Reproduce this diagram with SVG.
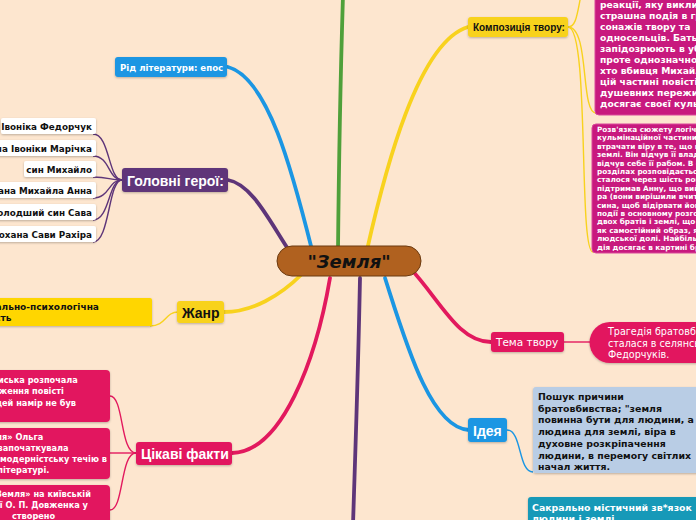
<svg xmlns="http://www.w3.org/2000/svg" width="696" height="520" viewBox="0 0 696 520">
<defs>
<filter id="sh" x="-10%" y="-10%" width="120%" height="130%"><feDropShadow dx="0" dy="1" stdDeviation="0.8" flood-color="#000" flood-opacity="0.25"/></filter>
<style>
.br{fill:none;stroke-linecap:round;stroke-width:3.8}
.th{fill:none;stroke-width:1.4}
.t1{font-family:"Liberation Sans",Arial,sans-serif;font-weight:bold}
.dv{font-family:"DejaVu Sans",Verdana,sans-serif;font-weight:bold}
.dr{font-family:"DejaVu Sans",Verdana,sans-serif}
.w{fill:#fff}
.k{fill:#111}
.sub{fill:#fff;filter:url(#sh)}
</style>
</defs>
<rect width="696" height="520" fill="#FDE6CF"/>
<g id="connectors">
<path class="br" stroke="#4FA03A" d="M338,250 C339,150 341,60 343,-5"/>
<path class="br" stroke="#1B96E3" d="M312,250 C292,170 268,78 228,67"/>
<path class="br" stroke="#F8D21E" d="M367,250 C385,170 418,42 468,27"/>
<path class="br" stroke="#5E3579" d="M290,252 C270,222 252,184 228,180"/>
<path class="br" stroke="#F8D21E" d="M302,274 C280,296 252,312 224,312"/>
<path class="br" stroke="#E2195E" d="M330,278 C316,360 282,452 232,453"/>
<path class="br" stroke="#5E3579" d="M360,278 C358,380 355,460 353,525"/>
<path class="br" stroke="#1B96E3" d="M385,278 C405,340 430,428 469,430"/>
<path class="br" stroke="#E2195E" d="M410,268 C440,300 458,342 491,342"/>
<g stroke="#5E3579" class="th">
<path d="M122,180 C108,180 110,134 93,134"/>
<path d="M122,180 C108,180 110,156 93,156"/>
<path d="M122,180 C108,180 110,177 93,177"/>
<path d="M122,180 C108,180 110,198 93,198"/>
<path d="M122,180 C108,180 110,220 93,220"/>
<path d="M122,180 C108,180 110,242 93,242"/>
</g>
<path class="th" stroke="#F8D21E" d="M178,312 C165,312 166,326 150,326"/>
<g stroke="#E2195E" class="th">
<path d="M136,453 C120,453 124,396 110,396"/>
<path d="M136,453 L110,453"/>
<path d="M136,453 C120,453 124,510 110,510"/>
</g>
<g stroke="#F8D21E" class="th">
<path d="M568,27 C576,27 577,15 581,-5"/>
<path d="M568,27 C590,27 580,113 596,113"/>
<path d="M568,27 C590,27 578,252 593,252"/>
</g>
<path class="th" stroke="#E2195E" d="M564,342 L590,342"/>
<path class="th" stroke="#1B96E3" d="M507,430 C522,430 518,472 533,472"/>
</g>
<g id="center">
<rect x="277" y="246" width="144" height="30" rx="15" fill="#B0611F" stroke="#6B3A10" stroke-width="1"/>
<text x="349" y="268" text-anchor="middle" class="k" style="font-family:'DejaVu Sans',sans-serif;font-weight:bold;font-style:italic;font-size:18px">"Земля"</text>
</g>
<g id="rid">
<rect x="115" y="57" width="112" height="20" rx="3" fill="#1B96E3" filter="url(#sh)"/>
<text x="120" y="70.5" class="dv w" font-size="8.6">Рід літератури: епос</text>
</g>
<g id="heroes">
<rect x="122" y="168" width="106" height="24" rx="3" fill="#5E3579" filter="url(#sh)"/>
<text x="127" y="186" class="t1 w" font-size="14">Головні герої:</text>
</g>
<g id="hero1"><rect class="sub" x="1" y="118" width="95" height="16" rx="2"/><text x="92" y="129.5" text-anchor="end" class="dv k" font-size="8.8">Івоніка Федорчук</text></g>
<g id="hero2"><rect class="sub" x="-30" y="140" width="126" height="16" rx="2"/><text x="92" y="151.5" text-anchor="end" class="dv k" font-size="8.8">Дружина Івоніки Марічка</text></g>
<g id="hero3"><rect class="sub" x="24" y="161" width="72" height="16" rx="2"/><text x="92" y="172.5" text-anchor="end" class="dv k" font-size="8.8">син Михайло</text></g>
<g id="hero4"><rect class="sub" x="-30" y="182" width="126" height="16" rx="2"/><text x="92" y="193.5" text-anchor="end" class="dv k" font-size="8.8">Кохана Михайла Анна</text></g>
<g id="hero5"><rect class="sub" x="-30" y="204" width="126" height="16" rx="2"/><text x="92" y="215.5" text-anchor="end" class="dv k" font-size="8.8">Молодший син Сава</text></g>
<g id="hero6"><rect class="sub" x="-30" y="226" width="126" height="16" rx="2"/><text x="92" y="237.5" text-anchor="end" class="dv k" font-size="8.8">кохана Сави Рахіра</text></g>
<g id="zhanr">
<rect x="177" y="301" width="47" height="22" rx="3" fill="#F8D21E" filter="url(#sh)"/>
<text x="182" y="317.5" class="t1 k" font-size="14">Жанр</text>
</g>
<g id="zhanr-child">
<rect x="-10" y="298" width="162" height="28" rx="2" fill="#FFD600" filter="url(#sh)"/>
<text class="dv k" font-size="9"><tspan x="-27" y="309.5">Соціально-психологічна</tspan><tspan x="-26" y="320.5">повість</tspan></text>
</g>
<g id="facts">
<rect x="136" y="442" width="96" height="23" rx="3" fill="#E2195E" filter="url(#sh)"/>
<text x="141" y="458.5" class="t1 w" font-size="14">Цікаві факти</text>
</g>
<g id="fact1">
<rect x="-10" y="370" width="120" height="52" rx="4" fill="#E2195E" filter="url(#sh)"/>
<text class="dv w" font-size="8.2"><tspan x="-2" y="383">иська розпочала</tspan><tspan x="-1" y="394">ження повісті</tspan><tspan x="-4" y="405.5">цей намір не був</tspan></text>
</g>
<g id="fact2">
<rect x="-10" y="428" width="120" height="51" rx="4" fill="#E2195E" filter="url(#sh)"/>
<text class="dv w" font-size="8.2"><tspan x="-4" y="440">ля» Ольга</tspan><tspan x="-2" y="451">започаткувала</tspan><tspan x="0" y="462">модерністську течію в</tspan><tspan x="-3" y="473">літературі.</tspan></text>
</g>
<g id="fact3">
<rect x="-10" y="485" width="120" height="45" rx="4" fill="#E2195E" filter="url(#sh)"/>
<text class="dv w" font-size="8.2"><tspan x="-4" y="497">Земля» на київській</tspan><tspan x="-3" y="508">ії О. П. Довженка у</tspan><tspan x="12" y="519">створено</tspan></text>
</g>
<g id="kompozytsiia">
<rect x="468" y="17" width="100" height="20" rx="3" fill="#F8D21E" filter="url(#sh)"/>
<text x="473" y="30.5" class="t1 k" font-size="10">Композиція твору:</text>
</g>
<g id="komp1">
<rect x="595" y="-10" width="110" height="125" rx="4" fill="#C8197E" stroke="#D9489A" stroke-width="1"/>
<text class="dv w" font-size="9.2"><tspan x="600" y="8">реакції, яку викликала</tspan><tspan x="600" y="19">страшна подія в гру</tspan><tspan x="600" y="30">сонажів твору та</tspan><tspan x="600" y="41">односельців. Батьки</tspan><tspan x="600" y="52">запідозрюють в убивстві</tspan><tspan x="600" y="63">проте однозначно</tspan><tspan x="600" y="74">хто вбивця Михайла</tspan><tspan x="600" y="85">цій частині повісті</tspan><tspan x="600" y="96">душевних переживань</tspan><tspan x="600" y="107">досягає своєї кульмінації</tspan></text>
</g>
<g id="komp2">
<rect x="592" y="124" width="110" height="129" rx="4" fill="#C8197E" stroke="#D9489A" stroke-width="1"/>
<text class="dv w" font-size="7.3"><tspan x="597" y="132">Розв'язка сюжету логічна</tspan><tspan x="597" y="140.4">кульмінаційної частини</tspan><tspan x="597" y="148.8">втрачати віру в те, що він</tspan><tspan x="597" y="157.2">землі. Він відчув її владу</tspan><tspan x="597" y="165.6">відчув себе її рабом. В останніх</tspan><tspan x="597" y="174">розділах розповідається</tspan><tspan x="597" y="182.4">сталося через шість років</tspan><tspan x="597" y="190.8">підтримав Анну, що вийшла</tspan><tspan x="597" y="199.2">ра (вони вирішили вчити</tspan><tspan x="597" y="207.6">сина, щоб відірвати його</tspan><tspan x="597" y="216">події в основному розгортаються</tspan><tspan x="597" y="224.4">двох братів і землі, що</tspan><tspan x="597" y="232.8">як самостійний образ, як</tspan><tspan x="597" y="241.2">людської долі. Найбільшої</tspan><tspan x="597" y="249.6">дія досягає в картині братовбивства</tspan></text>
</g>
<g id="tema">
<rect x="491" y="332" width="73" height="20" rx="3" fill="#E2195E" filter="url(#sh)"/>
<text x="496" y="346" class="dr w" font-size="10.5">Тема твору</text>
</g>
<g id="tema-child">
<path d="M610,322 H705 V363 H610 A20.5,20.5 0 0 1 610,322 Z" fill="#E2195E" filter="url(#sh)"/>
<text class="dr w" font-size="9.6"><tspan x="608" y="335">Трагедія братовбивства, що</tspan><tspan x="608" y="346.5">сталася в селянській родині</tspan><tspan x="608" y="358">Федорчуків.</tspan></text>
</g>
<g id="ideia">
<rect x="468" y="418" width="39" height="24" rx="3" fill="#1B96E3" filter="url(#sh)"/>
<text x="473" y="435.5" class="t1 w" font-size="14">Ідея</text>
</g>
<g id="ideia-child">
<rect x="533" y="387" width="175" height="86" rx="3" fill="#B9CDE5" filter="url(#sh)"/>
<text class="dv k" font-size="9.4"><tspan x="538" y="400">Пошук причини</tspan><tspan x="538" y="411.7">братовбивства; "земля</tspan><tspan x="538" y="423.4">повинна бути для людини, а</tspan><tspan x="538" y="435.1">людина для землі, віра в</tspan><tspan x="538" y="446.8">духовне розкріпачення</tspan><tspan x="538" y="458.5">людини, в перемогу світлих</tspan><tspan x="538" y="470.2">начал життя.</tspan></text>
</g>
<g id="sakralno">
<rect x="528" y="497" width="180" height="30" rx="3" fill="#1499B8" filter="url(#sh)"/>
<text class="dv w" font-size="9.4"><tspan x="532" y="510.5">Сакрально містичний зв*язок</tspan><tspan x="532" y="522">людини і землі</tspan></text>
</g>
</svg>
